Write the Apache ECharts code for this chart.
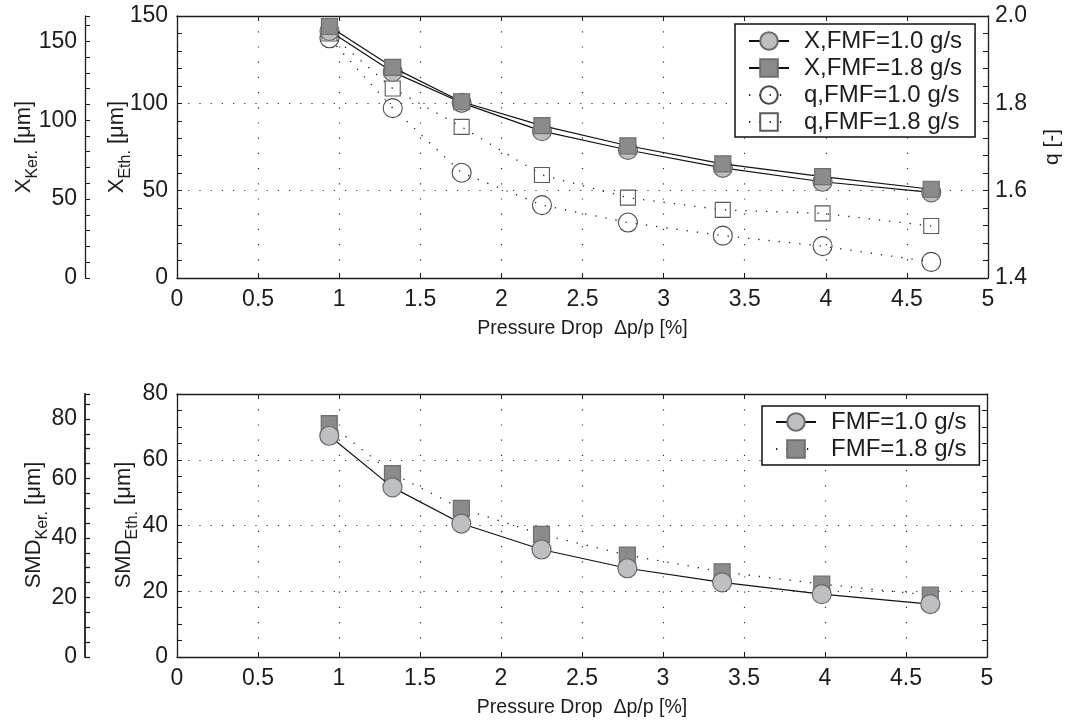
<!DOCTYPE html>
<html>
<head>
<meta charset="utf-8">
<script src="https://cdn.jsdelivr.net/npm/echarts@6/dist/echarts.min.js"></script>
<style>
  html, body { margin: 0; padding: 0; background: #fff; }
  #chart { width: 1067px; height: 724px; }
</style>
</head>
<body>
<div id="chart"></div>
<script>
// Pressure drop Δp/p [%] at each operating point
const pressureDrop = [0.94, 1.33, 1.755, 2.25, 2.78, 3.365, 3.98, 4.65];

// Characteristic diameter X [μm] (ethanol scale)
const xFmf10 = [141.4, 118.0, 100.3, 84.1, 73.3, 63.1, 55.1, 49.0];
const xFmf18 = [144.0, 120.6, 100.9, 87.2, 75.7, 65.3, 58.0, 50.8];

// Spread parameter q [-]
const qFmf10 = [1.949, 1.789, 1.641, 1.567, 1.527, 1.497, 1.473, 1.437];
const qFmf18 = [1.960, 1.834, 1.746, 1.636, 1.584, 1.556, 1.548, 1.519];

// Sauter mean diameter [μm] (ethanol scale)
const smdFmf10 = [67.3, 51.6, 40.6, 32.7, 27.0, 22.7, 19.1, 16.1];
const smdFmf18 = [71.0, 55.8, 45.2, 37.3, 31.0, 25.9, 22.2, 18.8];

// Legend / series names
const topNames = ['X,FMF=1.0 g/s', 'X,FMF=1.8 g/s', 'q,FMF=1.0 g/s', 'q,FMF=1.8 g/s'];
const bottomNames = ['FMF=1.0 g/s', 'FMF=1.8 g/s'];

// Axis ranges
const xRange = [0, 5];
const xEthRange = [0, 150];
const xKerRange = [0, 166];
const qRange = [1.4, 2.0];
const smdEthRange = [0, 80];
const smdKerRange = [0, 88.4];

const pairs = (xs, ys) => xs.map((x, i) => [x, ys[i]]);

const FONT = '"Liberation Sans", Arial, Helvetica, sans-serif';
const INK = '#1c1c1c';
const AXIS_LINE = { show: true, onZero: false, lineStyle: { color: INK, width: 1.3 } };
const TICK_IN = { show: true, inside: true, length: 5, lineStyle: { color: INK, width: 1 } };
const GRID_H = { show: true, lineStyle: { color: '#333', width: 1.2, type: [1.2, 10] } };
const GRID_V = { show: true, lineStyle: { color: '#333', width: 1.2, type: [1.2, 14] } };
const LABEL = { fontFamily: FONT, fontSize: 23, color: INK };

const circleFilled = { color: '#bebfc3', borderColor: '#6a6a6a', borderWidth: 1.2 };
const squareFilled = { color: '#8b8b8b', borderColor: '#6e6e6e', borderWidth: 1.2 };
const circleOpen = { color: 'rgba(255,255,255,0)', borderColor: '#4a4a4a', borderWidth: 1.1 };
const squareOpen = { color: 'rgba(255,255,255,0)', borderColor: '#5a5a5a', borderWidth: 1.1 };
const solidLine = { color: '#111', width: 1.2, type: 'solid' };
const dotLine = { color: '#222', width: 1.3, type: [1.3, 9] };

// Vertical axis titles with a subscript, read bottom-to-top.
const MAIN_SIZE = 22, SUB_SIZE = 16, SUB_DROP = 6;
const measureCtx = document.createElement('canvas').getContext('2d');
function textWidth(str, size) {
  measureCtx.font = size + 'px ' + FONT;
  return measureCtx.measureText(str).width;
}
function sideTitle(main, sub, unit, baselineX, centerY) {
  const wMain = textWidth(main, MAIN_SIZE);
  const wSub = textWidth(sub, SUB_SIZE);
  const wUnit = textWidth(unit, MAIN_SIZE);
  const start = centerY + (wMain + wSub + wUnit) / 2;
  const piece = (text, size, x, y) => ({
    type: 'text', x, y, rotation: Math.PI / 2, silent: true,
    style: { text, fontFamily: FONT, fontSize: size, fill: INK, align: 'center', verticalAlign: 'middle' }
  });
  return [
    piece(main, MAIN_SIZE, baselineX - 0.36 * MAIN_SIZE, start - wMain / 2),
    piece(sub, SUB_SIZE, baselineX + SUB_DROP - 0.36 * SUB_SIZE, start - wMain - wSub / 2),
    piece(unit, MAIN_SIZE, baselineX - 0.36 * MAIN_SIZE, start - wMain - wSub - wUnit / 2)
  ];
}

function xAxisPair(gridIndex) {
  return [
    {
      type: 'value', gridIndex, position: 'bottom',
      min: xRange[0], max: xRange[1], interval: 0.5,
      axisLine: AXIS_LINE, axisTick: TICK_IN,
      axisLabel: Object.assign({ margin: 10 }, LABEL),
      splitLine: GRID_V,
      name: 'Pressure Drop  Δp/p [%]', nameLocation: 'middle', nameGap: 40,
      nameTextStyle: { fontFamily: FONT, fontSize: 19.5, lineHeight: 22, color: INK }
    },
    {
      type: 'value', gridIndex, position: 'top',
      min: xRange[0], max: xRange[1], interval: 0.5,
      axisLine: AXIS_LINE, axisTick: TICK_IN,
      axisLabel: { show: false }, splitLine: { show: false }
    }
  ];
}

const option = {
  animation: false,
  backgroundColor: '#fff',
  grid: [
    { left: 177, top: 16, width: 811, height: 262, outerBoundsMode: 'none', containLabel: false },
    { left: 177, top: 394, width: 810, height: 263, outerBoundsMode: 'none', containLabel: false }
  ],
  xAxis: [...xAxisPair(0), ...xAxisPair(1)],
  yAxis: [
    // top panel: ethanol X
    {
      type: 'value', gridIndex: 0, position: 'left',
      min: xEthRange[0], max: xEthRange[1], interval: 50,
      axisLine: AXIS_LINE, axisTick: TICK_IN,
      minorTick: { show: true, splitNumber: 5, length: 5, lineStyle: { color: INK, width: 1 } },
      axisLabel: Object.assign({ margin: 9 }, LABEL),
      splitLine: GRID_H
    },
    // top panel: kerosene X scale
    {
      type: 'value', gridIndex: 0, position: 'left', offset: 92,
      min: xKerRange[0], max: xKerRange[1], interval: 10,
      axisLine: AXIS_LINE, axisTick: TICK_IN,
      axisLabel: Object.assign({ margin: 8, formatter: v => (v % 50 === 0 ? String(v) : '') }, LABEL),
      splitLine: { show: false }
    },
    // top panel: q
    {
      type: 'value', gridIndex: 0, position: 'right',
      min: qRange[0], max: qRange[1], interval: 0.2,
      axisLine: AXIS_LINE, axisTick: TICK_IN,
      minorTick: { show: true, splitNumber: 5, length: 5, lineStyle: { color: INK, width: 1 } },
      axisLabel: Object.assign({ margin: 7, formatter: v => v.toFixed(1) }, LABEL),
      splitLine: { show: false },
      name: 'q [-]', nameLocation: 'middle', nameRotate: 90, nameGap: 53,
      nameTextStyle: { fontFamily: FONT, fontSize: 21, lineHeight: 22, color: INK }
    },
    // bottom panel: ethanol SMD
    {
      type: 'value', gridIndex: 1, position: 'left',
      min: smdEthRange[0], max: smdEthRange[1], interval: 20,
      axisLine: AXIS_LINE, axisTick: TICK_IN,
      minorTick: { show: true, splitNumber: 4, length: 5, lineStyle: { color: INK, width: 1 } },
      axisLabel: Object.assign({ margin: 9 }, LABEL),
      splitLine: GRID_H
    },
    // bottom panel: kerosene SMD scale
    {
      type: 'value', gridIndex: 1, position: 'left', offset: 92,
      min: smdKerRange[0], max: smdKerRange[1], interval: 5,
      axisLine: { show: true, onZero: false, lineStyle: { color: INK, width: 1.8 } },
      axisTick: { show: true, inside: true, length: 5, lineStyle: { color: INK, width: 1.3 } },
      axisLabel: Object.assign({ margin: 8, formatter: v => (v % 20 === 0 ? String(v) : '') }, LABEL),
      splitLine: { show: false }
    },
    // bottom panel: right frame
    {
      type: 'value', gridIndex: 1, position: 'right',
      min: smdEthRange[0], max: smdEthRange[1], interval: 20,
      axisLine: AXIS_LINE, axisTick: TICK_IN,
      minorTick: { show: true, splitNumber: 4, length: 5, lineStyle: { color: INK, width: 1 } },
      axisLabel: { show: false }, splitLine: { show: false }
    }
  ],
  graphic: [
    ...sideTitle('X', 'Ker.', ' [μm]', 32, 147),
    ...sideTitle('X', 'Eth.', ' [μm]', 125, 147),
    ...sideTitle('SMD', 'Ker.', ' [μm]', 42, 525),
    ...sideTitle('SMD', 'Eth.', ' [μm]', 132, 525)
  ],
  legend: [
    {
      orient: 'vertical', left: 735, top: 24,
      data: topNames, selectedMode: false,
      itemWidth: 40, itemHeight: 22, itemGap: 3,
      padding: [5, 13, 3, 13],
      backgroundColor: '#fff', borderColor: '#111', borderWidth: 1.5, borderRadius: 0,
      textStyle: { fontFamily: FONT, fontSize: 24, color: INK, padding: [0, 0, 0, 10] }
    },
    {
      orient: 'vertical', left: 762, top: 406,
      data: bottomNames, selectedMode: false,
      itemWidth: 40, itemHeight: 22, itemGap: 3,
      padding: [4, 13, 4, 13],
      backgroundColor: '#fff', borderColor: '#111', borderWidth: 1.5, borderRadius: 0,
      textStyle: { fontFamily: FONT, fontSize: 24, color: INK, padding: [0, 0, 0, 10] }
    }
  ],
  series: [
    {
      name: topNames[2], type: 'line', xAxisIndex: 0, yAxisIndex: 2,
      data: pairs(pressureDrop, qFmf10),
      symbol: 'circle', symbolSize: 19, itemStyle: circleOpen, lineStyle: dotLine, z: 2
    },
    {
      name: topNames[3], type: 'line', xAxisIndex: 0, yAxisIndex: 2,
      data: pairs(pressureDrop, qFmf18),
      symbol: 'rect', symbolSize: 15, itemStyle: squareOpen, lineStyle: dotLine, z: 2
    },
    {
      name: topNames[0], type: 'line', xAxisIndex: 0, yAxisIndex: 0,
      data: pairs(pressureDrop, xFmf10),
      symbol: 'circle', symbolSize: 19, itemStyle: circleFilled, lineStyle: solidLine, z: 3
    },
    {
      name: topNames[1], type: 'line', xAxisIndex: 0, yAxisIndex: 0,
      data: pairs(pressureDrop, xFmf18),
      symbol: 'rect', symbolSize: 16, itemStyle: squareFilled, lineStyle: solidLine, z: 4
    },
    {
      name: bottomNames[1], type: 'line', xAxisIndex: 2, yAxisIndex: 3,
      data: pairs(pressureDrop, smdFmf18),
      symbol: 'rect', symbolSize: 16, itemStyle: squareFilled, lineStyle: dotLine, z: 3
    },
    {
      name: bottomNames[0], type: 'line', xAxisIndex: 2, yAxisIndex: 3,
      data: pairs(pressureDrop, smdFmf10),
      symbol: 'circle', symbolSize: 19, itemStyle: circleFilled, lineStyle: solidLine, z: 4
    }
  ]
};

const chart = echarts.init(document.getElementById('chart'), null, { renderer: 'canvas' });
chart.setOption(option);
</script>
</body>
</html>
